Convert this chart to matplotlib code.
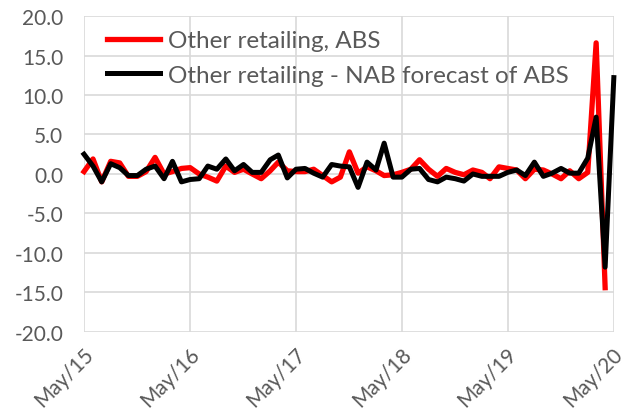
import matplotlib.pyplot as plt
import matplotlib.dates as mdates
import matplotlib.transforms as mtransforms
import pandas as pd

plt.rcParams['font.family'] = ['Lato', 'DejaVu Sans']

# monthly % change, May 2015 onwards
abs_vals = [0.3, 1.9, -1.0, 1.6, 1.4, -0.3, -0.3, 0.3, 2.1, 0.0,
            0.3, 0.7, 0.8, 0.0, -0.4, -0.9, 1.0, 0.2, 0.6, 0.0,
            -0.6, 0.4, 1.5, 0.4, 0.3, 0.3, 0.6, -0.2, -1.0, -0.4,
            2.8, 0.1, 0.9, 0.4, -0.2, -0.1, 0.2, 0.6, 1.8, 0.6,
            -0.3, 0.7, 0.2, -0.1, 0.5, 0.2, -0.6, 0.9, 0.7, 0.5,
            -0.6, 0.6, 0.5, 0.0, -0.6, 0.4, -0.6, 0.2, 16.6, -14.4]
nab_vals = [2.5, 1.0, -1.0, 1.3, 0.8, -0.2, -0.2, 0.6, 1.0, -0.6,
            1.6, -1.0, -0.7, -0.6, 1.0, 0.6, 1.9, 0.4, 1.2, 0.2,
            0.2, 1.8, 2.4, -0.5, 0.6, 0.7, 0.1, -0.4, 1.2, 1.0,
            0.9, -1.7, 1.5, 0.5, 3.9, -0.4, -0.4, 0.6, 0.7, -0.7,
            -1.0, -0.4, -0.6, -0.9, 0.0, -0.3, -0.3, -0.3, 0.2, 0.5,
            -0.2, 1.5, -0.3, 0.1, 0.7, 0.1, 0.1, 2.0, 7.2, -11.8, 12.2]
labels = ["Other retailing, ABS", "Other retailing - NAB forecast of ABS"]

dates_nab = pd.date_range("2015-05-01", periods=len(nab_vals), freq="MS")
dates_abs = dates_nab[:len(abs_vals)]

fig = plt.figure(figsize=(6.27, 4.10), dpi=100)
ax = fig.add_axes([0.134, 0.188, 0.845, 0.7705])

ax.plot(dates_abs, abs_vals, color="#ff0000", lw=3.8, label=labels[0], clip_on=False)
ax.plot(dates_nab, nab_vals, color="black", lw=3.6, label=labels[1], clip_on=False)

ax.set_ylim(-20, 20)
ax.set_yticks(range(-20, 21, 5))
ax.yaxis.set_major_formatter(plt.FuncFormatter(lambda v, p: f"{v:.1f}"))
ax.set_xlim(dates_nab[0], dates_nab[-1])
ax.set_xticks(pd.date_range("2015-05-01", "2020-05-01", freq="12MS"))
ax.xaxis.set_major_formatter(mdates.DateFormatter("%b/%y"))

for s in ax.spines.values():
    s.set_visible(False)
ax.grid(True, color="#d9d9d9", lw=1.2)
ax.set_axisbelow(True)
ax.tick_params(length=0, labelsize=15, labelcolor="#595959")
ax.tick_params(axis="y", pad=15)
ax.tick_params(axis="x", pad=2)
off = mtransforms.ScaledTranslation(6 / 100, -16 / 100, fig.dpi_scale_trans)
for t in ax.get_xticklabels():
    t.set_rotation(45)
    t.set_ha("right")
    t.set_va("center")
    t.set_rotation_mode("anchor")
    t.set_transform(t.get_transform() + off)

leg = ax.legend(loc="upper left", bbox_to_anchor=(0.025, 0.985), frameon=False,
                fontsize=17.5, handlelength=2.2, labelspacing=0.55,
                handletextpad=0.3, borderaxespad=0)
for t in leg.get_texts():
    t.set_color("#595959")

fig.savefig("out.png", dpi=100)
